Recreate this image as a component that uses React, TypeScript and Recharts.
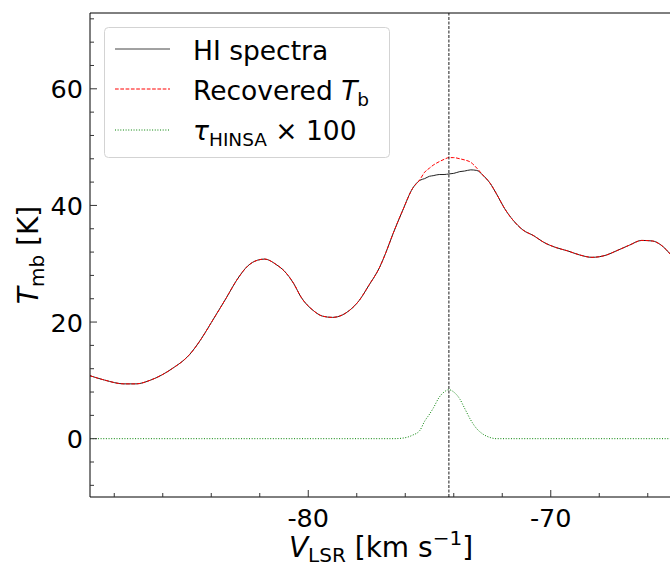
import { LineChart, Line, XAxis, YAxis, ReferenceLine } from 'recharts'

// velocity grid (km/s) and the three curves
const velocity = [
  -89.0, -88.4, -87.6, -87.1, -86.5, -85.6, -84.9, -84.4, -84.0, -83.4,
  -82.9, -82.5, -82.1, -81.8, -81.3, -81.0, -80.6, -80.3, -79.8, -79.4,
  -79.0, -78.6, -78.3, -77.9, -77.5, -77.05, -76.8, -76.5, -76.1, -75.7,
  -75.4, -75.2, -75.0, -74.85, -74.6, -74.4, -74.2, -74.0, -73.75, -73.55,
  -73.3, -73.05, -72.8, -72.5, -72.24, -71.9, -71.55, -71.15, -70.7, -70.3,
  -69.8, -69.3, -68.8, -68.3, -67.7, -67.3, -66.75, -66.25, -65.8, -65.45,
  -65.0,
]

const hiSpectra = [
  10.8, 10.05, 9.4, 9.4, 10.05, 12.05, 14.4, 17.2, 19.9, 24.0,
  27.5, 29.6, 30.6, 30.8, 29.8, 28.8, 26.6, 24.3, 22.0, 21.0,
  20.8, 21.2, 22.0, 23.7, 26.3, 29.45, 31.9, 35.2, 39.2, 42.9,
  44.3, 44.6, 45.0, 45.1, 45.3, 45.3, 45.4, 45.5, 45.8, 45.9,
  46.1, 46.0, 45.2, 43.8, 42.0, 39.45, 37.45, 35.8, 34.8, 33.7,
  32.8, 32.2, 31.5, 31.1, 31.5, 32.2, 33.2, 34.0, 33.9, 33.2,
  31.3,
]

const recoveredTb = [
  10.8, 10.05, 9.4, 9.4, 10.05, 12.05, 14.4, 17.2, 19.9, 24.0,
  27.5, 29.6, 30.6, 30.8, 29.8, 28.8, 26.6, 24.3, 22.0, 21.0,
  20.8, 21.2, 22.0, 23.7, 26.3, 29.45, 31.9, 35.2, 39.2, 42.9,
  44.4, 45.7, 46.4, 46.9, 47.5, 47.9, 48.2, 48.2, 48.0, 47.8,
  47.4, 46.4, 45.2, 43.8, 42.0, 39.45, 37.45, 35.8, 34.8, 33.7,
  32.8, 32.2, 31.5, 31.1, 31.5, 32.2, 33.2, 34.0, 33.9, 33.2,
  31.3,
]

// tau_HINSA x 100
const tauHinsa = [
  0, 0, 0, 0, 0, 0, 0, 0, 0, 0,
  0, 0, 0, 0, 0, 0, 0, 0, 0, 0,
  0, 0, 0, 0, 0, 0, 0, 0, 0.1, 0.6,
  1.4, 3.0, 4.2, 5.2, 7.1, 8.0, 8.4, 8.0, 6.8, 5.2,
  3.2, 1.7, 0.8, 0.2, 0, 0, 0, 0, 0, 0,
  0, 0, 0, 0, 0, 0, 0, 0, 0, 0,
  0,
]

const hinsaCenter = -74.2

const xTicks = [-88, -86, -84, -82, -80, -78, -76, -74, -72, -70, -68, -66]
const xMajor = [-80, -70]
const yTicks = [-8, -4, 0, 4, 8, 12, 16, 20, 24, 28, 32, 36, 40, 44, 48, 52, 56, 60, 64, 68, 72]
const yMajor = [0, 20, 40, 60]

const data = velocity.map((v, i) => ({
  v,
  hi: hiSpectra[i],
  rec: recoveredTb[i],
  tau: tauHinsa[i],
}))

const FONT = '"DejaVu Sans", sans-serif'

const XTick = (props: any) => {
  const { x, y, payload } = props
  const major = xMajor.includes(payload.value)
  return (
    <g>
      <line x1={x} x2={x} y1={y} y2={y - (major ? 7 : 4)} stroke="#333" strokeWidth={1} />
      {major && (
        <text x={x} y={y + 30} textAnchor="middle" fontSize={25.5} fontFamily={FONT} fill="#000">
          {String(payload.value)}
        </text>
      )}
    </g>
  )
}

const YTick = (props: any) => {
  const { x, y, payload } = props
  const major = yMajor.includes(payload.value)
  return (
    <g>
      <line x1={x} x2={x + (major ? 7 : 4)} y1={y} y2={y} stroke="#333" strokeWidth={1} />
      {major && (
        <text x={x - 7} y={y + 9.5} textAnchor="end" fontSize={25.5} fontFamily={FONT} fill="#000">
          {String(payload.value)}
        </text>
      )}
    </g>
  )
}

const Overlay = () => (
  <svg
    width={670}
    height={565}
    style={{ position: 'absolute', left: 0, top: 0, pointerEvents: 'none' }}
    fontFamily={FONT}
  >
    {/* legend */}
    <rect x={104.5} y={27.5} width={285} height={130} rx={4} fill="#fff" fillOpacity={0.8} stroke="#d3d3d3" />
    <line x1={115} x2={170} y1={49} y2={49} stroke="#444" strokeWidth={1} />
    <line x1={115} x2={170} y1={89} y2={89} stroke="#ff0000" strokeWidth={1} strokeDasharray="3.7 1.6" />
    <line x1={115} x2={170} y1={130} y2={130} stroke="#008000" strokeWidth={1} strokeDasharray="1 1.65" />
    <text x={193} y={59.5} fontSize={26.5} fill="#000">HI spectra</text>
    <text x={193} y={100} fontSize={26.5} fill="#000">
      Recovered <tspan fontStyle="italic">T</tspan>
      <tspan fontSize={18.5} dy={6}>b</tspan>
    </text>
    <text x={193} y={140} fontSize={26.5} fill="#000">
      <tspan fontStyle="italic">τ</tspan>
      <tspan fontSize={18.5} dy={6}>HINSA</tspan>
      <tspan dy={-6}> × 100</tspan>
    </text>

    {/* axis titles */}
    <text transform="translate(38,255) rotate(-90)" textAnchor="middle" fontSize={28} fill="#000">
      <tspan fontStyle="italic">T</tspan>
      <tspan fontSize={20} dy={6}>mb</tspan>
      <tspan dy={-6}> [K]</tspan>
    </text>
    <text x={381} y={557} textAnchor="middle" fontSize={28} fill="#000">
      <tspan fontStyle="italic">V</tspan>
      <tspan fontSize={20} dy={5}>LSR</tspan>
      <tspan dy={-5}> [km s</tspan>
      <tspan fontSize={20} dy={-12}>−1</tspan>
      <tspan dy={12}>]</tspan>
    </text>
  </svg>
)

export default function App() {
  return (
    <div style={{ position: 'absolute', left: 0, top: 0, width: 670, height: 565, overflow: 'hidden', background: '#fff' }}>
      <LineChart width={672} height={565} data={data} margin={{ top: 13, right: 0, left: 0, bottom: 0 }}>
        <XAxis
          dataKey="v"
          type="number"
          domain={[-89, -65]}
          allowDataOverflow
          ticks={xTicks}
          interval={0}
          tickSize={0}
          tickMargin={0}
          tickLine={false}
          tick={<XTick />}
          height={68}
          stroke="#000"
        />
        <YAxis
          type="number"
          domain={[-10, 73]}
          allowDataOverflow
          ticks={yTicks}
          interval={0}
          tickSize={0}
          tickMargin={0}
          tickLine={false}
          tick={<YTick />}
          width={90}
          stroke="#000"
        />
        <ReferenceLine y={73} stroke="#000" strokeWidth={1} />
        <Line dataKey="hi" type="monotone" stroke="#222" strokeWidth={1} dot={false} isAnimationActive={false} />
        <Line dataKey="rec" type="monotone" stroke="#ff0000" strokeWidth={1} strokeDasharray="3.7 1.6" dot={false} isAnimationActive={false} />
        <Line dataKey="tau" type="monotone" stroke="#008000" strokeWidth={1} strokeDasharray="1 1.65" dot={false} isAnimationActive={false} />
        <ReferenceLine x={hinsaCenter} stroke="#000" strokeWidth={0.9} strokeDasharray="3 1.5" />
      </LineChart>
      <Overlay />
    </div>
  )
}
